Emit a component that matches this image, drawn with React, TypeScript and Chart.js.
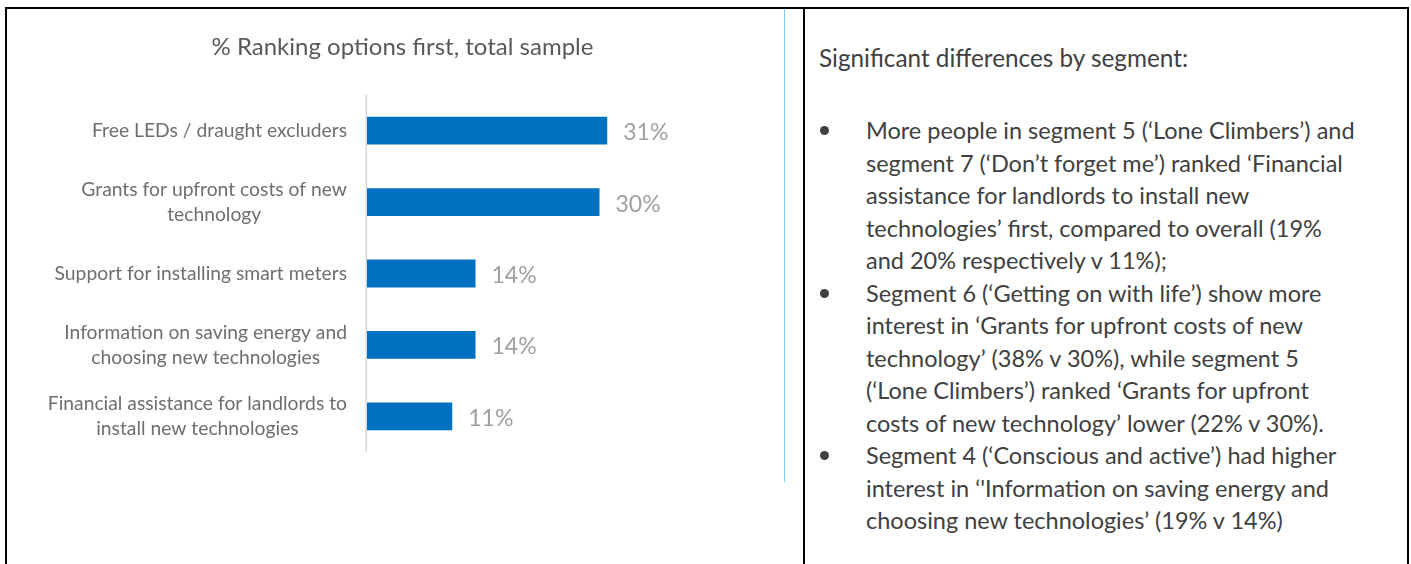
import React, { useEffect, useRef } from "react";
import { Chart, registerables } from "chart.js";

Chart.register(...registerables);

const CHART_TITLE = "% Ranking options first, total sample";
const CATEGORIES: string[][] = [
  ["Free LEDs / draught excluders"],
  ["Grants for upfront costs of new", "technology"],
  ["Support for installing smart meters"],
  ["Information on saving energy and", "choosing new technologies"],
  ["Financial assistance for landlords to", "install new technologies"],
];
const VALUES: number[] = [31, 30, 14, 14, 11];
const X_MAX = 40;

const PANEL_HEADING = "Significant differences by segment:";
const BULLETS: string[][] = [
  [
    "More people in segment 5 (‘Lone Climbers’) and",
    "segment 7 (‘Don’t forget me’) ranked ‘Financial",
    "assistance for landlords to install new",
    "technologies’ first, compared to overall (19%",
    "and 20% respectively v 11%);",
  ],
  [
    "Segment 6 (‘Getting on with life’) show more",
    "interest in ‘Grants for upfront costs of new",
    "technology’ (38% v 30%), while segment 5",
    "(‘Lone Climbers’) ranked ‘Grants for upfront",
    "costs of new technology’ lower (22% v 30%).",
  ],
  [
    "Segment 4 (‘Conscious and active’) had higher",
    "interest in ‘'Information on saving energy and",
    "choosing new technologies’ (19% v 14%)",
  ],
];

const FONT = "Lato, 'Open Sans', sans-serif";

const labelPlugin = {
  id: "customLabels",
  afterDraw(chart: any) {
    const { ctx, chartArea } = chart;
    const yScale = chart.scales.y;
    ctx.save();
    // axis line
    ctx.strokeStyle = "#d6d6d6";
    ctx.lineWidth = 1.5;
    ctx.beginPath();
    ctx.moveTo(chartArea.left - 0.75, chartArea.top);
    ctx.lineTo(chartArea.left - 0.75, chartArea.bottom);
    ctx.stroke();

    // category labels: block right-aligned, lines centered
    ctx.font = `19.3px ${FONT}`;
    ctx.fillStyle = "#6e6e6e";
    ctx.textAlign = "center";
    ctx.textBaseline = "middle";
    const lh = 25;
    CATEGORIES.forEach((lines, i) => {
      const cy = yScale.getPixelForValue(i);
      const w = Math.max(...lines.map((l) => ctx.measureText(l).width));
      const right = chartArea.left - 20;
      const cx = right - w / 2;
      lines.forEach((l, j) => {
        ctx.fillText(l, cx, cy + (j - (lines.length - 1) / 2) * lh);
      });
    });

    // value labels
    ctx.font = `23px ${FONT}`;
    ctx.fillStyle = "#a0a0a0";
    ctx.textAlign = "left";
    const meta = chart.getDatasetMeta(0);
    meta.data.forEach((bar: any, i: number) => {
      ctx.fillText(`${VALUES[i]}%`, bar.x + 16, bar.y + 2);
    });
    ctx.restore();
  },
};

function BarChart() {
  const ref = useRef<HTMLCanvasElement | null>(null);
  useEffect(() => {
    if (!ref.current) return;
    const chart = new Chart(ref.current, {
      type: "bar",
      data: {
        labels: CATEGORIES.map((c) => c.join(" ")),
        datasets: [
          {
            data: VALUES,
            backgroundColor: "#0070C0",
            borderWidth: 0,
            barPercentage: 0.39,
            categoryPercentage: 1,
          },
        ],
      },
      options: {
        indexAxis: "y",
        responsive: false,
        animation: false,
        devicePixelRatio: 1,
        layout: { padding: { left: 360, right: 107, top: 86, bottom: 27 } },
        plugins: {
          legend: { display: false },
          tooltip: { enabled: false },
          title: { display: false },
        },
        scales: {
          x: { display: false, min: 0, max: X_MAX },
          y: { display: false },
        },
      },
      plugins: [labelPlugin],
    });
    return () => chart.destroy();
  }, []);
  return (
    <canvas
      ref={ref}
      width={777}
      height={470}
      style={{ position: "absolute", left: 7, top: 9, width: 777, height: 470 }}
    />
  );
}

export default function App() {
  return (
    <div
      style={{
        position: "absolute",
        left: 0,
        top: 0,
        width: 1411,
        height: 564,
        overflow: "hidden",
        background: "#fff",
        fontFamily: FONT,
      }}
    >
      <div
        style={{
          position: "absolute",
          left: 5,
          top: 7,
          width: 1404,
          height: 620,
          boxSizing: "border-box",
          borderLeft: "2px solid #000",
          borderTop: "2px solid #000",
          borderRight: "2px solid #000",
        }}
      />
      <div style={{ position: "absolute", left: 803, top: 7, width: 2, height: 620, background: "#000" }} />
      <div style={{ position: "absolute", left: 784, top: 9, width: 1, height: 473, background: "#7fcdf5" }} />
      <BarChart />
      <div
        style={{
          position: "absolute",
          left: 211,
          top: 30,
          width: 383,
          textAlign: "center",
          fontSize: 24,
          lineHeight: "32px",
          color: "#595959",
          whiteSpace: "nowrap",
        }}
      >
        {CHART_TITLE}
      </div>
      <div
        style={{
          position: "absolute",
          left: 819,
          top: 42,
          fontSize: 24.3,
          lineHeight: "32.5px",
          color: "#404040",
          whiteSpace: "nowrap",
        }}
      >
        {PANEL_HEADING}
      </div>
      <div style={{ position: "absolute", left: 819, top: 114, color: "#404040", fontSize: 23.5, lineHeight: "32.5px" }}>
        {BULLETS.map((lines, bi) => (
          <div key={bi} style={{ position: "relative", paddingLeft: 47 }}>
            <span
              style={{
                position: "absolute",
                left: 1,
                top: 12,
                width: 9,
                height: 9,
                borderRadius: "50%",
                background: "#404040",
              }}
            />
            {lines.map((l, li) => (
              <div key={li} style={{ whiteSpace: "nowrap" }}>
                {l}
              </div>
            ))}
          </div>
        ))}
      </div>
    </div>
  );
}
